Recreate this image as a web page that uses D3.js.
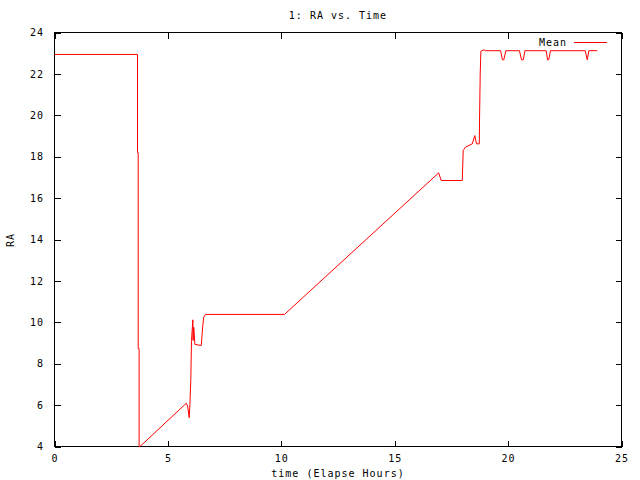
<!DOCTYPE html>
<html><head><meta charset="utf-8">
<script src="https://cdn.jsdelivr.net/npm/d3@7"></script>
<style>
body{margin:0;background:#fff;}
text{font-family:"DejaVu Sans Mono",monospace;font-size:10px;letter-spacing:1px;fill:#000;}
</style></head>
<body><svg id="c" width="640" height="480"></svg>
<script>
const title = "1: RA vs. Time";
const xLabel = "time (Elapse Hours)";
const yLabel = "RA";
const seriesName = "Mean";
const xTicks = [0,5,10,15,20,25];
const yTicks = [4,6,8,10,12,14,16,18,20,22,24];
const timeH = [0,3.66,3.66,3.69,3.69,3.73,3.73,3.77,5.81,5.87,5.94,5.97,6.01,6.04,6.10,6.11,6.14,6.19,6.47,6.54,6.58,6.66,10.14,16.94,17.05,17.98,18.02,18.12,18.42,18.53,18.61,18.73,18.74,18.77,18.80,18.93,19.00,19.67,19.75,19.81,19.90,20.50,20.59,20.67,20.74,21.68,21.74,21.79,21.87,23.40,23.49,23.56,23.93];
const ra    = [22.94,22.94,18.2,18.2,8.73,8.73,4.0,4.0,6.09,5.95,5.39,6.03,7.19,9.12,10.12,9.12,9.76,8.93,8.88,9.85,10.25,10.38,10.38,17.22,16.85,16.85,18.30,18.46,18.62,19.02,18.62,18.62,19.72,22.0,23.1,23.16,23.12,23.12,22.68,22.68,23.12,23.12,22.68,22.68,23.12,23.12,22.68,22.68,23.12,23.12,22.68,23.12,23.12];

const svg = d3.select("#c");
const L=54,R=621,T=32,B=446;
const x = d3.scaleLinear().domain([0,25]).range([L,R]);
const y = d3.scaleLinear().domain([4,24]).range([B,T]);

const g = svg.append("g").attr("transform","translate(0.5,0.5)");
g.append("rect").attr("x",L).attr("y",T).attr("width",R-L).attr("height",B-T)
 .attr("fill","none").attr("stroke","#000").attr("shape-rendering","crispEdges");

const tl=6;
const ax = (sel)=>sel.selectAll(".domain").remove();
g.append("g").attr("transform",`translate(0,${B})`)
 .call(d3.axisBottom(x).tickValues(xTicks).tickSize(-tl).tickPadding(8).tickFormat(d3.format("d"))).call(ax);
g.append("g").attr("transform",`translate(0,${T})`)
 .call(d3.axisTop(x).tickValues(xTicks).tickSize(-tl).tickFormat("")).call(ax);
g.append("g").attr("transform",`translate(${L},0)`)
 .call(d3.axisLeft(y).tickValues(yTicks).tickSize(-tl).tickPadding(10.5).tickFormat(d3.format("d"))).call(ax);
g.append("g").attr("transform",`translate(${R},0)`)
 .call(d3.axisRight(y).tickValues(yTicks).tickSize(-tl).tickFormat("")).call(ax);
g.selectAll(".tick line").attr("stroke","#000").attr("shape-rendering","crispEdges");
g.selectAll(".tick text").attr("font-family","DejaVu Sans Mono, monospace").attr("font-size",10).attr("fill","#000");

const data = timeH.map((t,i)=>[t,ra[i]]);
g.append("path").datum(data)
 .attr("d",d3.line().x(d=>x(d[0])).y(d=>y(d[1])))
 .attr("fill","none").attr("stroke","#ff0000").attr("stroke-width",1);

svg.append("text").attr("x",338).attr("y",19).attr("text-anchor","middle").text(title);
svg.append("text").attr("x",338).attr("y",477).attr("text-anchor","middle").text(xLabel);
svg.append("text").attr("transform","translate(14,240) rotate(-90)").attr("text-anchor","middle").text(yLabel);
svg.append("text").attr("x",567).attr("y",46).attr("text-anchor","end").text(seriesName);
svg.append("line").attr("x1",574).attr("x2",607).attr("y1",42.5).attr("y2",42.5)
 .attr("stroke","#ff0000").attr("stroke-width",1);
</script></body></html>
